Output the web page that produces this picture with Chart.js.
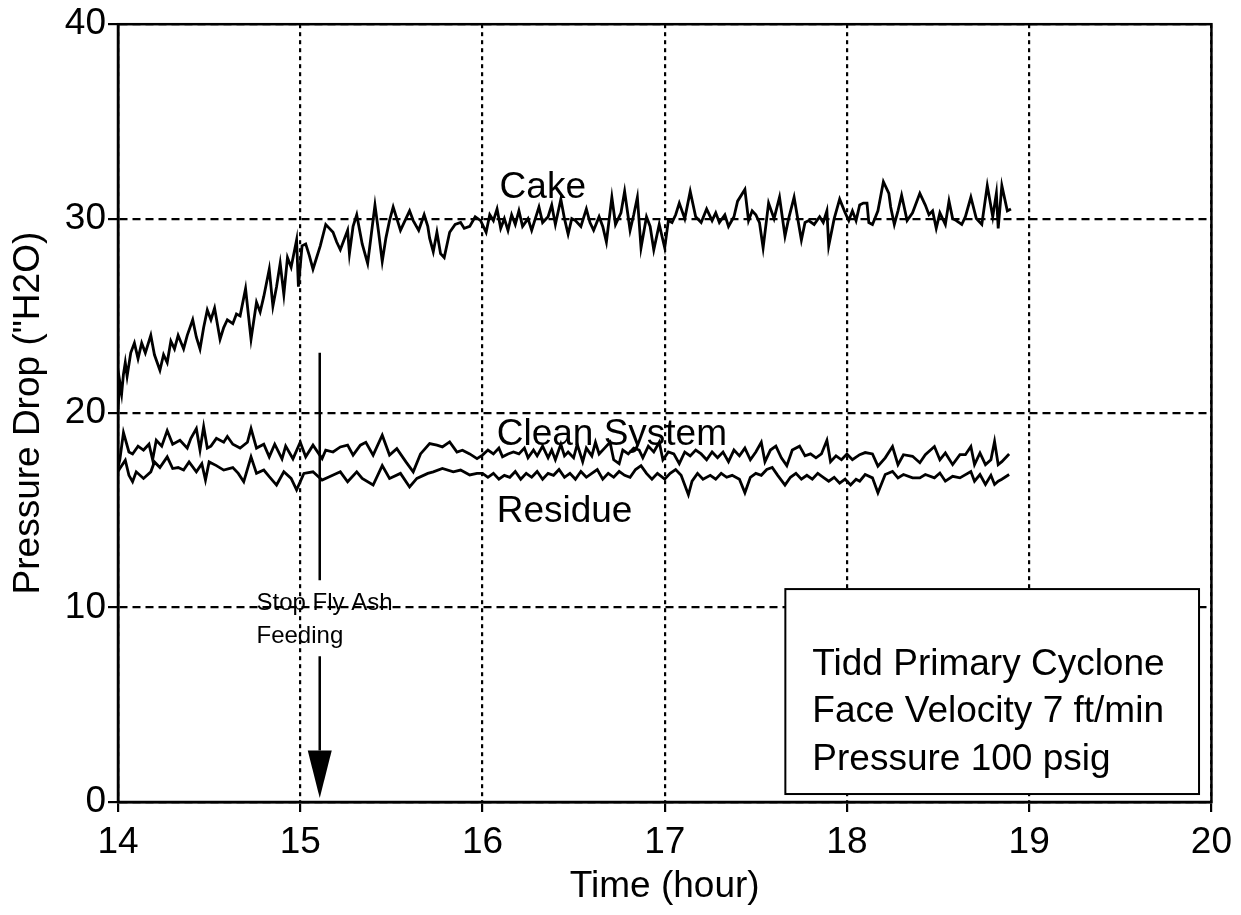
<!DOCTYPE html>
<html><head><meta charset="utf-8">
<script src="https://cdn.jsdelivr.net/npm/chart.js@4.4.1/dist/chart.umd.min.js"></script>
<style>html,body{margin:0;padding:0;background:#fff}canvas{display:block}</style>
</head><body>
<canvas id="c" width="1241" height="915"></canvas>
<script>
// ---- data (time in hours, pressure drop in "H2O) ----
const xTicks = [14, 15, 16, 17, 18, 19, 20];
const yTicks = [0, 10, 20, 30, 40];
const xTitle = 'Time (hour)';
const yTitle = 'Pressure Drop ("H2O)';
const seriesNames = ['Cake', 'Clean System', 'Residue'];

const cake = [
[14.00,20.2],[14.01,21.6],[14.02,21.0],[14.03,22.0],[14.04,22.6],[14.05,21.9],[14.07,23.1],[14.09,23.6],[14.11,22.8],[14.13,23.6],
[14.15,23.1],[14.18,24.0],[14.20,23.0],[14.23,22.2],[14.25,23.0],[14.27,22.6],[14.29,23.7],[14.31,23.3],[14.33,24.0],[14.36,23.3],
[14.38,24.0],[14.41,24.8],[14.43,23.9],[14.45,23.3],[14.47,24.4],[14.49,25.3],[14.51,24.8],[14.53,25.4],[14.56,23.8],[14.58,24.4],
[14.60,24.8],[14.63,24.6],[14.65,25.1],[14.67,25.0],[14.70,26.4],[14.73,23.8],[14.76,25.7],[14.78,25.2],[14.80,26.0],[14.83,27.4],
[14.85,25.5],[14.87,26.5],[14.89,27.7],[14.91,26.1],[14.93,28.0],[14.95,27.5],[14.98,28.9],[14.99,26.5],[15.01,28.6],[15.03,28.7],
[15.05,28.1],[15.07,27.4],[15.09,28.0],[15.11,28.6],[15.14,29.7],[15.16,29.5],[15.18,29.3],[15.20,28.8],[15.22,28.4],[15.24,28.9],
[15.26,29.4],[15.27,28.2],[15.29,29.6],[15.31,30.2],[15.34,28.7],[15.37,27.7],[15.39,29.2],[15.41,30.7],[15.43,29.3],[15.45,27.8],
[15.47,29.0],[15.49,29.9],[15.51,30.6],[15.53,30.0],[15.55,29.4],[15.58,30.0],[15.60,30.4],[15.62,29.9],[15.65,29.4],[15.68,30.2],
[15.70,29.6],[15.71,29.0],[15.73,28.3],[15.75,29.3],[15.77,28.2],[15.79,28.0],[15.82,29.3],[15.85,29.7],[15.88,29.8],[15.90,29.5],
[15.93,29.6],[15.96,30.1],[15.99,29.9],[16.02,29.3],[16.04,30.2],[16.06,29.9],[16.08,30.5],[16.10,29.5],[16.12,30.0],[16.14,29.4],
[16.16,30.2],[16.18,29.7],[16.20,30.4],[16.22,29.6],[16.25,30.0],[16.27,29.4],[16.29,30.0],[16.31,30.6],[16.33,29.8],[16.36,30.1],
[16.38,30.7],[16.40,29.7],[16.43,31.0],[16.45,30.0],[16.47,29.2],[16.49,30.0],[16.51,29.9],[16.54,29.6],[16.57,30.5],[16.59,29.8],
[16.61,29.4],[16.64,30.1],[16.66,29.6],[16.68,28.8],[16.71,31.1],[16.73,29.7],[16.76,30.3],[16.78,31.4],[16.81,29.4],[16.83,30.2],
[16.85,31.1],[16.87,28.5],[16.90,30.1],[16.92,29.6],[16.94,28.4],[16.97,29.7],[17.00,28.5],[17.02,29.9],[17.04,29.8],[17.06,30.2],
[17.08,30.8],[17.11,30.0],[17.14,31.4],[17.17,30.1],[17.20,29.8],[17.23,30.5],[17.26,29.9],[17.28,30.3],[17.30,29.8],[17.33,30.2],
[17.35,29.6],[17.38,30.1],[17.40,30.9],[17.44,31.5],[17.46,29.9],[17.48,30.4],[17.50,30.2],[17.52,29.8],[17.54,28.5],[17.57,30.8],
[17.60,30.0],[17.63,31.1],[17.66,29.1],[17.68,30.0],[17.71,31.1],[17.73,30.0],[17.75,28.9],[17.77,29.8],[17.79,29.9],[17.82,29.7],
[17.85,30.1],[17.87,29.8],[17.89,30.4],[17.90,28.6],[17.93,30.0],[17.96,31.0],[17.99,30.3],[18.01,29.9],[18.03,30.4],[18.05,29.9],
[18.07,30.7],[18.09,30.8],[18.11,30.8],[18.12,29.8],[18.14,29.7],[18.17,30.4],[18.20,31.9],[18.23,31.3],[18.24,30.6],[18.26,29.7],
[18.28,30.4],[18.30,31.2],[18.33,29.9],[18.36,30.3],[18.40,31.3],[18.43,30.7],[18.45,30.2],[18.47,30.4],[18.49,29.5],[18.51,30.3],
[18.54,29.7],[18.56,30.9],[18.58,30.0],[18.60,29.9],[18.63,29.7],[18.65,30.1],[18.68,31.1],[18.71,30.0],[18.74,29.7],[18.77,31.7],
[18.80,30.1],[18.82,31.3],[18.83,29.5],[18.85,31.7],[18.88,30.4],[18.90,30.5]
];

const cleanSystem = [
[14.00,17.2],[14.01,17.6],[14.03,19.0],[14.06,18.0],[14.08,17.9],[14.11,18.3],[14.14,18.1],[14.17,18.4],[14.19,17.6],[14.21,18.6],
[14.24,18.3],[14.27,19.1],[14.30,18.4],[14.34,18.6],[14.38,18.2],[14.40,18.7],[14.43,19.2],[14.45,18.1],[14.47,19.3],[14.49,18.2],
[14.51,18.3],[14.54,18.7],[14.58,18.5],[14.60,18.8],[14.63,18.4],[14.67,18.2],[14.71,18.5],[14.73,19.2],[14.76,18.2],[14.80,18.4],
[14.83,17.75],[14.86,18.4],[14.90,17.65],[14.92,18.3],[14.96,17.65],[15.00,18.5],[15.03,17.75],[15.07,18.35],[15.12,17.66],[15.14,18.1],
[15.18,18.0],[15.22,18.26],[15.26,18.35],[15.29,17.84],[15.33,18.35],[15.36,18.5],[15.40,17.84],[15.45,18.86],[15.49,17.84],[15.53,18.17],
[15.58,17.49],[15.62,16.98],[15.66,17.9],[15.71,18.43],[15.75,18.35],[15.78,18.26],[15.82,18.52],[15.86,18.0],[15.89,18.09],[15.93,17.9],
[15.97,17.66],[16.00,17.84],[16.03,18.1],[16.06,17.9],[16.09,18.2],[16.11,17.75],[16.14,17.9],[16.17,18.0],[16.20,17.9],[16.23,18.2],
[16.25,17.7],[16.28,18.1],[16.30,17.8],[16.33,18.3],[16.36,17.7],[16.38,18.1],[16.40,17.6],[16.43,18.4],[16.45,17.8],[16.47,18.0],
[16.50,17.7],[16.52,18.4],[16.55,17.5],[16.57,18.2],[16.60,17.8],[16.62,18.5],[16.64,17.9],[16.67,18.2],[16.70,18.5],[16.72,17.6],
[16.75,17.4],[16.77,18.1],[16.80,17.9],[16.83,18.2],[16.86,18.1],[16.88,17.7],[16.91,18.3],[16.94,18.0],[16.97,18.5],[16.99,17.6],
[17.02,18.0],[17.05,17.9],[17.08,17.4],[17.11,18.0],[17.14,17.8],[17.17,18.1],[17.20,17.9],[17.23,17.6],[17.26,18.0],[17.29,17.7],
[17.32,18.0],[17.35,17.5],[17.38,18.1],[17.41,17.8],[17.44,18.2],[17.47,17.6],[17.50,18.0],[17.53,18.5],[17.55,17.5],[17.58,18.1],
[17.61,18.3],[17.64,17.7],[17.67,17.3],[17.70,18.1],[17.74,18.3],[17.77,17.8],[17.80,17.9],[17.83,17.7],[17.86,17.9],[17.89,18.6],
[17.91,17.5],[17.94,17.8],[17.97,17.6],[18.00,17.9],[18.03,17.6],[18.07,17.86],[18.10,17.97],[18.14,17.9],[18.17,17.27],[18.21,17.7],
[18.25,18.28],[18.28,17.35],[18.31,17.86],[18.36,17.78],[18.40,17.45],[18.43,17.86],[18.48,18.28],[18.51,17.6],[18.54,17.95],[18.58,17.35],
[18.62,17.86],[18.65,17.86],[18.68,18.28],[18.70,17.35],[18.73,17.95],[18.76,17.35],[18.79,17.6],[18.81,18.54],[18.83,17.35],[18.85,17.5],
[18.89,17.9]
];

const residue = [
[14.00,17.0],[14.01,17.15],[14.04,17.58],[14.06,16.8],[14.08,16.47],[14.10,16.98],[14.14,16.64],[14.18,16.98],[14.20,17.49],[14.23,17.2],
[14.27,17.75],[14.30,17.15],[14.33,17.2],[14.36,17.07],[14.39,17.49],[14.43,16.98],[14.46,17.4],[14.48,16.56],[14.50,17.49],[14.54,17.3],
[14.58,17.07],[14.63,17.2],[14.66,16.9],[14.69,16.47],[14.73,17.75],[14.76,16.9],[14.80,17.07],[14.83,16.73],[14.87,16.3],[14.91,16.98],
[14.95,16.64],[14.98,16.05],[15.02,16.9],[15.07,16.98],[15.12,16.56],[15.16,16.73],[15.22,16.98],[15.26,16.47],[15.31,16.98],[15.34,16.64],
[15.40,16.3],[15.45,17.3],[15.49,16.64],[15.55,16.9],[15.60,16.2],[15.64,16.64],[15.70,16.9],[15.73,16.98],[15.78,17.15],[15.84,16.98],
[15.88,17.07],[15.93,16.82],[15.97,16.9],[16.00,16.9],[16.03,16.7],[16.06,16.9],[16.09,16.6],[16.12,16.8],[16.15,16.7],[16.18,17.0],
[16.21,16.6],[16.24,16.9],[16.27,16.7],[16.30,17.0],[16.33,16.6],[16.36,16.9],[16.39,16.8],[16.42,17.1],[16.45,16.7],[16.48,16.9],
[16.51,16.6],[16.54,17.0],[16.57,16.7],[16.60,16.9],[16.63,17.1],[16.66,16.6],[16.69,16.9],[16.72,16.7],[16.75,17.0],[16.78,16.8],
[16.81,16.7],[16.84,17.1],[16.87,17.3],[16.90,16.9],[16.93,16.6],[16.96,16.9],[17.00,16.6],[17.03,16.9],[17.06,17.1],[17.09,16.8],
[17.13,15.8],[17.15,16.5],[17.18,16.9],[17.21,16.6],[17.25,16.8],[17.28,16.6],[17.31,16.9],[17.34,16.7],[17.37,16.8],[17.41,16.6],
[17.44,15.9],[17.47,16.7],[17.50,16.9],[17.53,16.8],[17.56,17.1],[17.59,17.2],[17.62,16.8],[17.66,16.3],[17.69,16.7],[17.72,16.9],
[17.75,16.6],[17.78,16.8],[17.81,16.6],[17.84,16.9],[17.87,16.7],[17.90,16.5],[17.93,16.7],[17.96,16.4],[17.99,16.6],[18.02,16.3],
[18.05,16.6],[18.07,16.5],[18.10,16.84],[18.14,16.67],[18.17,15.9],[18.21,16.84],[18.25,17.0],[18.28,16.67],[18.31,16.84],[18.36,16.67],
[18.40,16.67],[18.43,16.84],[18.48,16.67],[18.51,16.92],[18.54,16.5],[18.58,16.75],[18.62,16.67],[18.68,17.0],[18.70,16.5],[18.73,16.84],
[18.76,16.33],[18.79,16.8],[18.81,16.33],[18.83,16.5],[18.85,16.6],[18.89,16.84]
];

// annotation texts and anchor positions (data coordinates)
const seriesLabelPos = [[16.094, 31.05], [16.078, 18.36], [16.078, 14.42]];
const arrowNote = ['Stop Fly Ash', 'Feeding'];
const arrowNotePos = [14.76, 10.23, 8.54];
const arrowAt = { t: 15.107, top: 23.1, gapTop: 11.4, gapBottom: 7.5, headTop: 2.65, tip: 0.2 };
const infoLines = ['Tidd Primary Cyclone', 'Face Velocity 7 ft/min', 'Pressure 100 psig'];
const infoBox = { left: 17.662, right: 19.932, top: 10.95, bottom: 0.41, textT: 17.81, baselines: [6.55, 4.09, 1.64] };

// ---- drawing ----
const FONT = "'Liberation Sans', Arial, Helvetica, sans-serif";
const toXY = arr => arr.map(p => ({ x: p[0], y: p[1] }));

const annotations = {
  id: 'annotations',
  afterDatasetsDraw(chart) {
    const ctx = chart.ctx, xs = chart.scales.x, ys = chart.scales.y, a = chart.chartArea;
    ctx.save();
    // frame
    ctx.strokeStyle = '#000'; ctx.lineWidth = 2.5;
    ctx.strokeRect(a.left, a.top, a.right - a.left, a.bottom - a.top);
    // series labels
    ctx.fillStyle = '#000';
    ctx.font = `37px ${FONT}`;
    ctx.textAlign = 'left'; ctx.textBaseline = 'alphabetic';
    seriesNames.forEach((n, i) => {
      ctx.fillText(n, xs.getPixelForValue(seriesLabelPos[i][0]), ys.getPixelForValue(seriesLabelPos[i][1]));
    });
    // arrow
    const ax = xs.getPixelForValue(arrowAt.t);
    ctx.lineWidth = 2.5;
    ctx.beginPath();
    ctx.moveTo(ax, ys.getPixelForValue(arrowAt.top)); ctx.lineTo(ax, ys.getPixelForValue(arrowAt.gapTop));
    ctx.moveTo(ax, ys.getPixelForValue(arrowAt.gapBottom)); ctx.lineTo(ax, ys.getPixelForValue(arrowAt.headTop));
    ctx.stroke();
    ctx.beginPath();
    const ht = ys.getPixelForValue(arrowAt.headTop);
    ctx.moveTo(ax - 12, ht); ctx.lineTo(ax + 12, ht); ctx.lineTo(ax, ys.getPixelForValue(arrowAt.tip));
    ctx.closePath(); ctx.fill();
    ctx.font = `24px ${FONT}`;
    ctx.textBaseline = 'middle';
    ctx.fillText(arrowNote[0], xs.getPixelForValue(arrowNotePos[0]), ys.getPixelForValue(arrowNotePos[1]));
    ctx.fillText(arrowNote[1], xs.getPixelForValue(arrowNotePos[0]), ys.getPixelForValue(arrowNotePos[2]));
    // info box
    const bl = xs.getPixelForValue(infoBox.left), br = xs.getPixelForValue(infoBox.right);
    const bt = ys.getPixelForValue(infoBox.top), bb = ys.getPixelForValue(infoBox.bottom);
    ctx.fillStyle = '#fff'; ctx.fillRect(bl, bt, br - bl, bb - bt);
    ctx.strokeStyle = '#000'; ctx.lineWidth = 2; ctx.strokeRect(bl, bt, br - bl, bb - bt);
    ctx.fillStyle = '#000'; ctx.font = `37px ${FONT}`; ctx.textBaseline = 'alphabetic';
    infoLines.forEach((s, i) => ctx.fillText(s, xs.getPixelForValue(infoBox.textT), ys.getPixelForValue(infoBox.baselines[i])));
    ctx.restore();
  }
};

const lineStyle = { borderColor: '#000', borderWidth: 2.8, pointRadius: 0, tension: 0, fill: false };

new Chart(document.getElementById('c'), {
  type: 'line',
  data: {
    datasets: [
      { label: seriesNames[0], data: toXY(cake), ...lineStyle },
      { label: seriesNames[1], data: toXY(cleanSystem), ...lineStyle },
      { label: seriesNames[2], data: toXY(residue), ...lineStyle }
    ]
  },
  options: {
    responsive: false, animation: false, devicePixelRatio: 1,
    layout: { padding: { left: 0, right: 29, top: 20, bottom: 0 } },
    plugins: { legend: { display: false }, tooltip: { enabled: false } },
    scales: {
      x: {
        type: 'linear', min: xTicks[0], max: xTicks[xTicks.length - 1],
        afterBuildTicks: s => { s.ticks = xTicks.map(v => ({ value: v })); },
        afterFit: s => { s.height = 113; },
        ticks: { color: '#000', font: { family: FONT, size: 37 }, padding: 9, maxRotation: 0 },
        grid: { color: '#000', lineWidth: 2.2, tickLength: 10, tickBorderDash: [], drawOnChartArea: true },
        border: { display: true, color: '#000', width: 2.5, dash: [4, 4] },
        title: { display: true, text: xTitle, color: '#000', font: { family: FONT, size: 37 }, padding: { top: 0, bottom: 6 } }
      },
      y: {
        type: 'linear', min: yTicks[0], max: yTicks[yTicks.length - 1],
        afterBuildTicks: s => { s.ticks = yTicks.map(v => ({ value: v })); },
        afterFit: s => { s.width = 118; },
        ticks: { color: '#000', font: { family: FONT, size: 37 }, padding: 2 },
        grid: { color: '#000', lineWidth: 2.2, tickLength: 10, tickBorderDash: [] },
        border: { display: true, color: '#000', width: 2.5, dash: [8, 5] },
        title: { display: true, text: yTitle, color: '#000', font: { family: FONT, size: 37 }, padding: { top: 7, bottom: 0 } }
      }
    }
  },
  plugins: [annotations]
});
</script>
</body></html>
